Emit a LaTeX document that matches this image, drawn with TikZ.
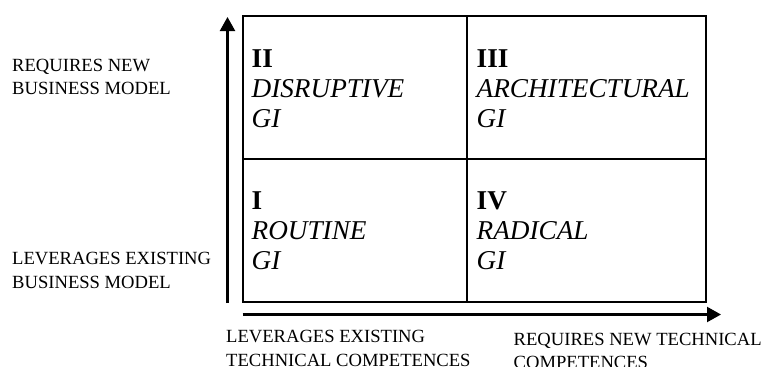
\documentclass[tikz,border=0pt]{standalone}
\usepackage{fontspec}
\setmainfont{Liberation Serif}
\usetikzlibrary{arrows.meta}
\begin{document}
\begin{tikzpicture}[x=1pt,y=-1pt,
  axislabel/.style={anchor=north west,inner sep=0pt,align=left,
    font=\fontsize{18.6}{23.8}\selectfont},
  quadlabel/.style={anchor=north west,inner sep=0pt,align=left,
    font=\fontsize{27.2}{30}\selectfont},
  frame/.style={line width=2pt},
  axis/.style={line width=2.2pt,-{Triangle[length=14pt,width=15pt]}}]
\useasboundingbox (0,0) rectangle (761,367);

% matrix frame and quadrant dividers
\coordinate (tl) at (242.7,16);
\coordinate (br) at (706,301.5);
\coordinate (mt) at (467.3,16);
\coordinate (mb) at (467.3,301.5);
\coordinate (ml) at (242.7,159.3);
\coordinate (mr) at (706,159.3);
\draw[frame] (tl) rectangle (br);
\draw[frame] (mt) -- (mb);
\draw[frame] (ml) -- (mr);

% axes
\coordinate (yfoot) at (227.5,303);
\coordinate (ytip) at (227.5,17);
\coordinate (xfoot) at (242.5,314.5);
\coordinate (xtip) at (721,314.5);
\draw[axis] (yfoot) -- (ytip);
\draw[axis] (xfoot) -- (xtip);

% quadrant texts
\node[quadlabel] (q2) at (251.5,49) {\textbf{II}\\\textit{DISRUPTIVE}\\\textit{GI}};
\node[quadlabel] (q3) at (476.5,49) {\textbf{III}\\\textit{ARCHITECTURAL}\\\textit{GI}};
\node[quadlabel] (q1) at (251.5,191.5) {\textbf{I}\\\textit{ROUTINE}\\\textit{GI}};
\node[quadlabel] (q4) at (476.5,191.5) {\textbf{IV}\\\textit{RADICAL}\\\textit{GI}};

% axis captions
\node[axislabel] (ynew) at (12,58.5) {REQUIRES NEW\\BUSINESS MODEL};
\node[axislabel] (yold) at (12,252) {LEVERAGES EXISTING\\BUSINESS MODEL};
\node[axislabel] (xold) at (226,330) {LEVERAGES EXISTING\\TECHNICAL COMPETENCES};
\node[axislabel] (xnew) at (513.5,332.5) {REQUIRES NEW TECHNICAL\\COMPETENCES};
\end{tikzpicture}
\end{document}
